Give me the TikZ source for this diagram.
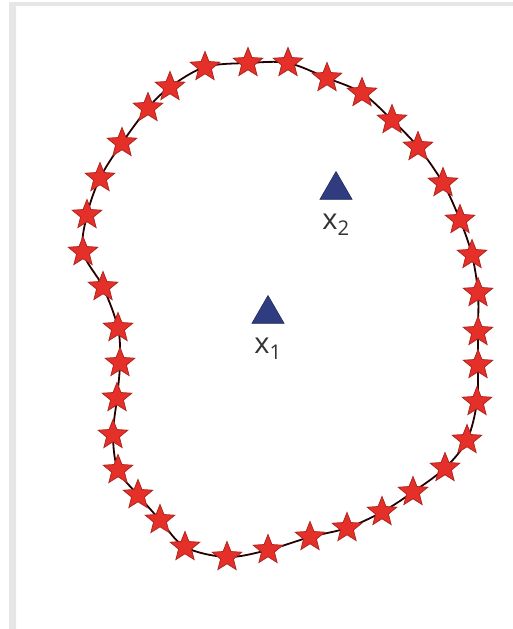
\documentclass[tikz,border=0pt]{standalone}
\usepackage{fontspec}
\usepackage{tikz}
\usetikzlibrary{shapes.geometric,positioning}
\newfontfamily\labelfont{Open Sans}

\definecolor{starred}{HTML}{E5302A}
\definecolor{stardark}{HTML}{B02520}
\definecolor{trinavy}{HTML}{2F3C80}
\definecolor{labelgray}{HTML}{333333}
\definecolor{framegray}{HTML}{E6E6E6}

\begin{document}
\begin{tikzpicture}[x=1pt,y=-1pt,
  every node/.style={font=\labelfont\fontsize{29}{34}\selectfont},
  ringstar/.style={star,star points=5,star point ratio=2.3,fill=starred,draw=stardark,
    line width=0.8pt,minimum size=31pt,inner sep=0pt},
  pointmark/.style={regular polygon,regular polygon sides=3,fill=trinavy,draw=trinavy!70!black,
    line width=0.6pt,minimum size=37pt,inner sep=0pt},
  ptlabel/.style={text=labelgray,inner sep=1pt}]
 \useasboundingbox (0,0) rectangle (513,629);
 \fill[framegray] (9,2) rectangle (513,6) (9,2) rectangle (16,629);
 % points of the ring, clockwise from the top left
 \foreach \x/\y [count=\i] in {170/87,205/67,248/63,288/63,327/78,362/93,392/120,418/147,
   443/183,460/220,472/255,478/293,478/332,478/365,477/402,467/440,445/468,413/492,
   382/512,347/528,310/537,268/550,227/557,185/547,160/520,138/495,118/470,113/435,
   117/398,120/363,118/328,103/287,83/252,87/215,100/178,122/143,148/108}
   {\coordinate (p\i) at (\x,\y);}
 \draw[line width=1.8pt,color=black!80!red!70!black] plot[smooth cycle,tension=0.55] coordinates
   {(p1) (p2) (p3) (p4) (p5) (p6) (p7) (p8) (p9) (p10) (p11) (p12) (p13) (p14) (p15) (p16)
    (p17) (p18) (p19) (p20) (p21) (p22) (p23) (p24) (p25) (p26) (p27) (p28) (p29) (p30)
    (p31) (p32) (p33) (p34) (p35) (p36) (p37)};
 \foreach \i in {1,...,37}{\node[ringstar] (s\i) at (p\i) {};}
 \node[pointmark] (x2) at (336,190) {};
 \node[pointmark] (x1) at (268,314) {};
 \node[ptlabel,below=13pt of x2.south] (lx2) {x\textsubscript{2}};
 \node[ptlabel,below=13pt of x1.south] (lx1) {x\textsubscript{1}};
\end{tikzpicture}
\end{document}
